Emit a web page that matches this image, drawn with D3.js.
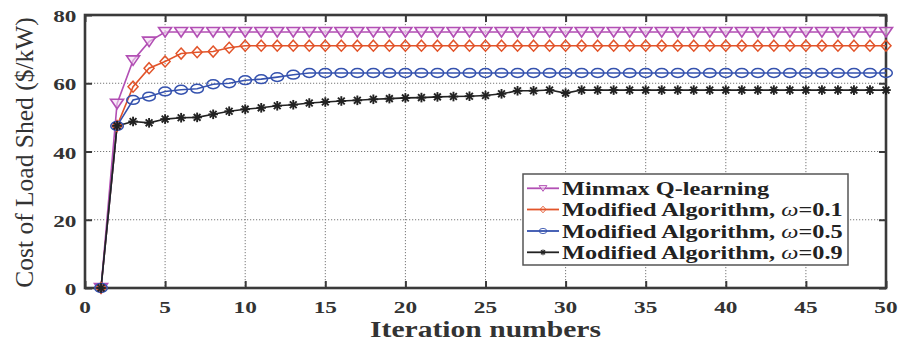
<!DOCTYPE html>
<html>
<head>
<meta charset="utf-8">
<script src="https://cdn.jsdelivr.net/npm/d3@7"></script>
<style>
  html, body { margin: 0; padding: 0; background: #fff; }
  svg text { font-family: "Liberation Serif", "Times New Roman", serif; fill: #333; }
</style>
</head>
<body>
<svg id="chart" width="903" height="347"></svg>
<script>
// Iteration index (x axis) and cost of load shed per method
const iterations = [1,2,3,4,5,6,7,8,9,10,11,12,13,14,15,16,17,18,19,20,21,22,23,24,25,
                    26,27,28,29,30,31,32,33,34,35,36,37,38,39,40,41,42,43,44,45,46,47,48,49,50];
const minmaxQ = [0,54,66.7,72.2,75,75,75,75,75,75,75,75,75,75,75,75,75,75,75,75,75,75,75,75,75,
                 75,75,75,75,75,75,75,75,75,75,75,75,75,75,75,75,75,75,75,75,75,75,75,75,75];
const modW01 = [0,47.5,59,64.4,66.4,68.7,69.1,69.3,70.4,71,71,71,71,71,71,71,71,71,71,71,71,71,71,71,71,
                71,71,71,71,71,71,71,71,71,71,71,71,71,71,71,71,71,71,71,71,71,71,71,71,71];
const modW05 = [0,47.5,55.1,56.1,57.6,58.1,58.4,59.7,60,60.9,61.2,61.8,62.5,63,63,63,63,63,63,63,63,63,63,63,63,
                63,63,63,63,63,63,63,63,63,63,63,63,63,63,63,63,63,63,63,63,63,63,63,63,63];
const modW09 = [0,47.5,48.8,48.4,49.5,49.9,50,50.9,51.8,52.4,52.8,53.4,53.7,54.2,54.5,54.8,55,55.3,55.5,55.7,55.8,56,56.1,56.2,56.4,
                56.9,57.8,57.8,58,57.1,58,58,58,58,58,58,58,58,58,58,58,58,58,58,58,58,58,58,58,58];
const seriesNames = ["Minmax Q-learning", "Modified Algorithm, ", "Modified Algorithm, ", "Modified Algorithm, "];
const omegaLabels = [null, "=0.1", "=0.5", "=0.9"];
const xTicks = [0,5,10,15,20,25,30,35,40,45,50];
const yTicks = [0,20,40,60,80];
const xTitle = "Iteration numbers";
const yTitle = "Cost of Load Shed ($/kW)";

const colors = ["#b24fb4", "#e2542a", "#3552ae", "#222222"];
const markers = ["triangle", "diamond", "circle", "star"];
const seriesData = [minmaxQ, modW01, modW05, modW09];

const svg = d3.select("#chart");
const plotL = 85, plotR = 886, plotT = 15, plotB = 288;
const x = d3.scaleLinear().domain([0, 50]).range([plotL, plotR]);
const y = d3.scaleLinear().domain([0, 80]).range([plotB, plotT]);
const axisColor = "#3a3a3a";

// dotted grid
const grid = svg.append("g");
grid.selectAll(".gx").data(xTicks.slice(1, -1)).enter().append("line")
  .attr("x1", d => x(d)).attr("x2", d => x(d)).attr("y1", plotT).attr("y2", plotB)
  .attr("stroke", "#777").attr("stroke-width", 1).attr("stroke-dasharray", "1.2,1.8");
grid.selectAll(".gy").data(yTicks.slice(1, -1)).enter().append("line")
  .attr("x1", plotL).attr("x2", plotR).attr("y1", d => y(d)).attr("y2", d => y(d))
  .attr("stroke", "#777").attr("stroke-width", 1).attr("stroke-dasharray", "1.2,1.8");

// axes with inward ticks on all four sides
const tickLen = 7;
function styleAxis(g) {
  g.select(".domain").remove();
  g.selectAll("line").attr("stroke", axisColor).attr("stroke-width", 2);
}
svg.append("g").attr("transform", `translate(0,${plotB})`)
  .call(d3.axisBottom(x).tickValues(xTicks).tickSizeInner(-tickLen).tickSizeOuter(0).tickFormat(""))
  .call(styleAxis);
svg.append("g").attr("transform", `translate(0,${plotT})`)
  .call(d3.axisTop(x).tickValues(xTicks).tickSizeInner(-tickLen).tickSizeOuter(0).tickFormat(""))
  .call(styleAxis);
svg.append("g").attr("transform", `translate(${plotL},0)`)
  .call(d3.axisLeft(y).tickValues(yTicks).tickSizeInner(-tickLen).tickSizeOuter(0).tickFormat(""))
  .call(styleAxis);
svg.append("g").attr("transform", `translate(${plotR},0)`)
  .call(d3.axisRight(y).tickValues(yTicks).tickSizeInner(-tickLen).tickSizeOuter(0).tickFormat(""))
  .call(styleAxis);

// frame
svg.append("rect").attr("x", plotL).attr("y", plotT).attr("width", plotR - plotL).attr("height", plotB - plotT)
  .attr("fill", "none").attr("stroke", axisColor).attr("stroke-width", 2.6);

// tick labels (wide bold serif digits)
const tickSx = 1.37;
svg.selectAll(".xl").data(xTicks).enter().append("text")
  .attr("transform", d => `translate(${x(d)},313) scale(${tickSx},1)`)
  .attr("text-anchor", "middle").attr("font-size", 17).attr("font-weight", "bold").text(d => d);
svg.selectAll(".yl").data(yTicks).enter().append("text")
  .attr("transform", d => `translate(76.5,${y(d) + 7}) scale(${tickSx},1)`)
  .attr("text-anchor", "end").attr("font-size", 17).attr("font-weight", "bold").text(d => d);

// axis titles
svg.append("text").attr("transform", `translate(${(plotL + plotR) / 2},336.5) scale(1.26,1)`)
  .attr("text-anchor", "middle").attr("font-size", 23.5).attr("font-weight", "bold").text(xTitle);
svg.append("text").attr("transform", `translate(33,${(plotT + plotB) / 2 + 1}) rotate(-90)`)
  .attr("text-anchor", "middle").attr("font-size", 25.5).attr("font-weight", "normal").text(yTitle);

// marker drawing (open markers, line shows through)
function drawMarker(g, type, color) {
  if (type === "triangle") {
    g.append("path").attr("d", "M-6.5,-4.5L6.5,-4.5L0,5Z").attr("fill", "#f3dcf3").attr("fill-opacity", 0.6)
      .attr("stroke", color).attr("stroke-width", 1.6);
  } else if (type === "diamond") {
    g.append("path").attr("d", "M0,-5.5L5,0L0,5.5L-5,0Z").attr("fill", "none").attr("stroke", color).attr("stroke-width", 1.5);
  } else if (type === "circle") {
    g.append("ellipse").attr("rx", 6.3).attr("ry", 4.4).attr("fill", "none").attr("stroke", color).attr("stroke-width", 1.5);
  } else {
    const r = 4.8;
    [0, 45, 90, 135].forEach(a => {
      const rad = a * Math.PI / 180;
      g.append("line").attr("x1", -r * Math.cos(rad)).attr("y1", -r * Math.sin(rad))
        .attr("x2", r * Math.cos(rad)).attr("y2", r * Math.sin(rad))
        .attr("stroke", color).attr("stroke-width", 1.9);
    });
  }
}

// series lines, then markers
const line = d3.line().x((d, i) => x(iterations[i])).y(d => y(d));
seriesData.forEach((vals, s) => {
  svg.append("path").datum(vals).attr("d", line)
    .attr("fill", "none").attr("stroke", colors[s]).attr("stroke-width", 1.6);
});
seriesData.forEach((vals, s) => {
  vals.forEach((v, i) => {
    const g = svg.append("g").attr("transform", `translate(${x(iterations[i])},${y(v)})`);
    drawMarker(g, markers[s], colors[s]);
  });
});

// legend
const lg = svg.append("g");
lg.append("rect").attr("x", 523).attr("y", 174).attr("width", 325).attr("height", 91)
  .attr("fill", "#fff").attr("stroke", "#555").attr("stroke-width", 1.5);
const rowY = [188.3, 209.5, 231, 252.3];
seriesNames.forEach((name, s) => {
  const row = lg.append("g").attr("transform", `translate(0,${rowY[s]})`);
  row.append("line").attr("x1", 527).attr("x2", 559).attr("y1", 0).attr("y2", 0)
    .attr("stroke", colors[s]).attr("stroke-width", 1.8);
  const mg = row.append("g").attr("transform", "translate(543,0) scale(0.6)");
  drawMarker(mg, markers[s], colors[s]);
  const t = row.append("text").attr("transform", `translate(562,6.6) scale(1.24,1)`)
    .attr("font-size", 19.6).attr("font-weight", "bold").style("fill", "#222");
  t.append("tspan").text(name);
  if (omegaLabels[s]) {
    t.append("tspan").style("font-style", "italic").style("font-weight", "normal").text("ω");
    t.append("tspan").text(omegaLabels[s]);
  }
});
</script>
</body>
</html>
